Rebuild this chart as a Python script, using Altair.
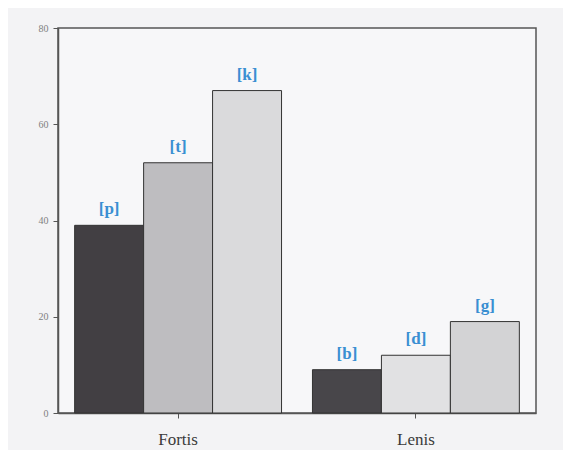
import altair as alt
import pandas as pd

groups = ["Fortis", "Fortis", "Fortis", "Lenis", "Lenis", "Lenis"]
ranks = [1, 2, 3, 1, 2, 3]
phonemes = ["[p]", "[t]", "[k]", "[b]", "[d]", "[g]"]
values = [39, 52, 67, 9, 12, 19]
fills = ["#423f43", "#bebdc0", "#dadadc", "#48464a", "#e1e1e3", "#d3d3d5"]

df = pd.DataFrame({"group": groups, "rank": ranks, "phoneme": phonemes, "value": values})

xenc = alt.X("group:N", title=None, sort=["Fortis", "Lenis"],
             scale=alt.Scale(paddingInner=0.13, paddingOuter=0.07),
             axis=alt.Axis(labelAngle=0, labelFont="Liberation Serif", labelFontSize=17,
                           labelColor="#3a3a3a", labelPadding=13, tickSize=5,
                           tickColor="#555555", domainColor="#555555", domainWidth=1.5))
yenc = alt.Y("value:Q", title=None, scale=alt.Scale(domain=[0, 80], nice=False),
             axis=alt.Axis(values=[0, 20, 40, 60, 80], grid=False, labelFont="Liberation Serif",
                           labelFontSize=10, labelColor="#808080", labelPadding=5, tickSize=5,
                           tickColor="#555555", domainColor="#555555", domainWidth=1.5))
off = alt.XOffset("rank:O", scale=alt.Scale(paddingInner=0, paddingOuter=0))

bars = alt.Chart(df).mark_bar(stroke="#333333", strokeWidth=1).encode(
    x=xenc, xOffset=off, y=yenc,
    fill=alt.Fill("phoneme:N", scale=alt.Scale(domain=phonemes, range=fills), legend=None),
)
labels = alt.Chart(df).mark_text(dy=-7, baseline="bottom", font="Liberation Serif",
                                 fontSize=17, fontWeight="bold", color="#3a8fd2").encode(
    x=xenc, xOffset=off, y=yenc, text="phoneme:N"
)

chart = (bars + labels).properties(
    width=478, height=385, background="#f3f3f5",
    padding={"left": 50, "top": 20, "right": 27, "bottom": 37},
    autosize=alt.AutoSizeParams(type="none"),
).configure_view(stroke="#555555", strokeWidth=1.5, fill="#f7f7f9")

chart.save("out.html", embed_options={"renderer": "svg", "actions": False})
